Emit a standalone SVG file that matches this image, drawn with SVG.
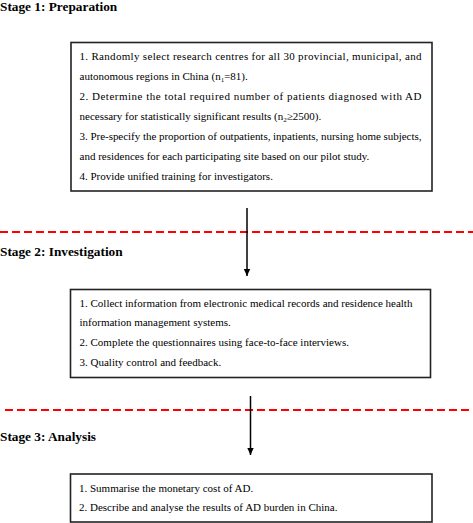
<svg xmlns="http://www.w3.org/2000/svg" width="473" height="523" viewBox="0 0 473 523">
<style>
.title{font-family:"Liberation Serif","Times New Roman",serif;font-weight:bold;font-size:13.3px;fill:#000}
.body{font-family:"Liberation Serif","Times New Roman",serif;font-size:11px;fill:#000}
.box{fill:#fff;stroke:#222;stroke-width:1.6}
.sep{stroke:#ff0000;stroke-width:2;stroke-dasharray:8,4;fill:none}
.arrow{stroke:#000;stroke-width:1.5;fill:none;marker-end:url(#ah)}
</style>
<defs>
<marker id="ah" markerWidth="8" markerHeight="8" refX="7" refY="4" orient="auto" markerUnits="userSpaceOnUse">
<path d="M0,0.8 L7,4 L0,7.2 Z" fill="#000"/>
</marker>
</defs>
<rect width="473" height="523" fill="#fff"/>
<g id="separators">
<line class="sep" x1="0" y1="232" x2="473" y2="232"/>
<line class="sep" x1="5" y1="410" x2="473" y2="410"/>
</g>
<g id="titles">
<text class="title" x="0" y="10.5">Stage 1: Preparation</text>
<text class="title" x="0" y="256">Stage 2: Investigation</text>
<text class="title" x="0" y="441">Stage 3: Analysis</text>
</g>
<g id="connectors">
<line class="arrow" x1="247" y1="208" x2="247" y2="276"/>
<line class="arrow" x1="250.5" y1="396" x2="250.5" y2="455"/>
</g>
<g id="stage1">
<rect class="box" x="71" y="42.5" width="361" height="148.5"/>
<text class="body" x="79.5" y="60" textLength="342" lengthAdjust="spacing">1. Randomly select research centres for all 30 provincial, municipal, and</text>
<text class="body" x="79.5" y="80">autonomous regions in China (n<tspan font-size="7" dy="2">1</tspan><tspan dy="-2">=81).</tspan></text>
<text class="body" x="79.5" y="100" textLength="342" lengthAdjust="spacing">2. Determine the total required number of patients diagnosed with AD</text>
<text class="body" x="79.5" y="120">necessary for statistically significant results (n<tspan font-size="7" dy="2">2</tspan><tspan dy="-2">≥2500).</tspan></text>
<text class="body" x="79.5" y="140" textLength="342" lengthAdjust="spacing">3. Pre-specify the proportion of outpatients, inpatients, nursing home subjects,</text>
<text class="body" x="79.5" y="160">and residences for each participating site based on our pilot study.</text>
<text class="body" x="79.5" y="180">4. Provide unified training for investigators.</text>
</g>
<g id="stage2">
<rect class="box" x="70.5" y="289.5" width="360" height="88"/>
<text class="body" x="79.5" y="306.5">1. Collect information from electronic medical records and residence health</text>
<text class="body" x="79.5" y="326.3">information management systems.</text>
<text class="body" x="79.5" y="346">2. Complete the questionnaires using face-to-face interviews.</text>
<text class="body" x="79.5" y="365.8">3. Quality control and feedback.</text>
</g>
<g id="stage3">
<rect class="box" x="70.5" y="474" width="361.5" height="48"/>
<text class="body" x="79" y="491.7">1. Summarise the monetary cost of AD.</text>
<text class="body" x="79" y="510.7">2. Describe and analyse the results of AD burden in China.</text>
</g>
</svg>
